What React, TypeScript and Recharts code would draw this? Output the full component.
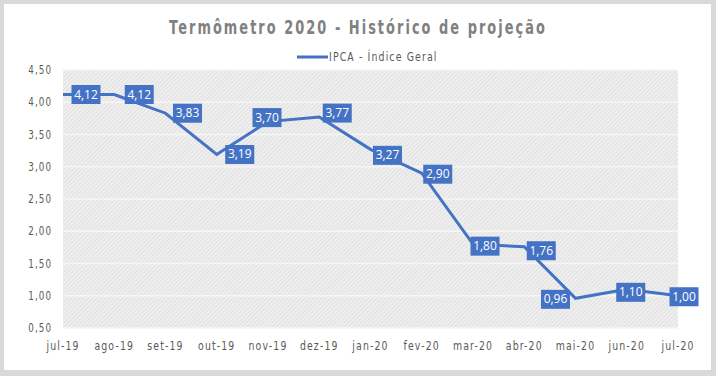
import { LineChart, Line, XAxis, YAxis, CartesianGrid, Legend, LabelList } from "recharts";

const months = ["jul-19", "ago-19", "set-19", "out-19", "nov-19", "dez-19", "jan-20", "fev-20", "mar-20", "abr-20", "mai-20", "jun-20", "jul-20"];
const ipca = [4.12, 4.12, 3.83, 3.19, 3.7, 3.77, 3.27, 2.9, 1.8, 1.76, 0.96, 1.1, 1.0];
const yTicks = [0.5, 1, 1.5, 2, 2.5, 3, 3.5, 4, 4.5];

// label nudges (px) so the boxes sit like in the original
const labelDx = [23, 25, 22, 23, -1, 18, 17, 16, 12, 17, -20, 4, 6];
const labelDy = [0, 0, 0, 0, -4, -4, 6, 1, 2, 4, 1, 3, 1];

const data = months.map((m, i) => ({ month: m, ipca: ipca[i] }));

const BLUE = "#4472C4";
const GREY = "#595959";
const font = "'DejaVu Sans', sans-serif";
const fmt = (v: number) => v.toFixed(2).replace(".", ",");

// no condensed font available, so squeeze text horizontally
const XTick = ({ x, y, payload }: any) => (
  <g transform={`translate(${x},${y + 14}) scale(0.75,1)`}>
    <text x={0} y={0} textAnchor="middle" fill={GREY} fontSize={12.5} fontFamily={font} letterSpacing={1.5}>
      {payload.value}
    </text>
  </g>
);

const YTick = ({ x, y, payload }: any) => (
  <g transform={`translate(${x + 7},${y + 4}) scale(0.7,1)`}>
    <text x={0} y={0} textAnchor="end" fill={GREY} fontSize={12.5} fontFamily={font} letterSpacing={1.5}>
      {fmt(payload.value)}
    </text>
  </g>
);

const BoxLabel = (props: any) => {
  const { x, y, value, index } = props;
  const cx = x + labelDx[index];
  const cy = y + labelDy[index];
  return (
    <g>
      <rect x={cx - 14.5} y={cy - 9.5} width={29} height={19} fill={BLUE} />
      <text x={cx} y={cy + 4} textAnchor="middle" fill="#fff" fontSize={12} fontFamily="'Open Sans', sans-serif">
        {fmt(value)}
      </text>
    </g>
  );
};

const LegendContent = () => (
  <div style={{ position: "relative", height: 20 }}>
    <svg width={31} height={6} style={{ position: "absolute", left: 297, top: 7 }}>
      <line x1={0} y1={3} x2={31} y2={3} stroke={BLUE} strokeWidth={3} />
    </svg>
    <span
      style={{
        position: "absolute",
        left: 329,
        top: 2,
        fontFamily: font,
        fontSize: 12.5,
        color: GREY,
        letterSpacing: 1.5,
        whiteSpace: "nowrap",
        transform: "scaleX(0.75)",
        transformOrigin: "left center",
      }}
    >
      IPCA - Índice Geral
    </span>
  </div>
);

export default function App() {
  return (
    <div style={{ position: "fixed", left: 0, top: 0, width: 716, height: 376, background: "#d9d9d9" }}>
      <div style={{ position: "absolute", left: 4, top: 4, width: 707, height: 366, background: "#fff" }} />
      <div
        style={{
          position: "absolute",
          left: 0,
          top: 16,
          width: 716,
          textAlign: "center",
          fontFamily: font,
          fontWeight: "bold",
          fontSize: 19,
          letterSpacing: 3,
          color: "#808080",
          whiteSpace: "nowrap",
          transform: "scaleX(0.68)",
        }}
      >
        Termômetro 2020 - Histórico de projeção
      </div>
      <div style={{ position: "absolute", left: 0, top: 0 }}>
        <LineChart width={716} height={376} data={data} margin={{ top: 50, right: 38, bottom: 18, left: 0 }}>
          <defs>
            <pattern id="hatch" width={3} height={3} patternUnits="userSpaceOnUse" patternTransform="rotate(45)">
              <rect width={3} height={3} fill="#efefef" />
              <line x1={0} y1={0} x2={0} y2={3} stroke="#dcdcdc" strokeWidth={1.5} />
            </pattern>
          </defs>
          <CartesianGrid vertical={false} fill="url(#hatch)" stroke="#f6f6f6" strokeWidth={1.5} />
          <XAxis dataKey="month" axisLine={false} tickLine={false} height={30} tick={<XTick />} interval={0} />
          <YAxis
            width={63}
            domain={[0.5, 4.5]}
            ticks={yTicks}
            axisLine={false}
            tickLine={false}
            tickMargin={12}
            tick={<YTick />}
          />
          <Legend verticalAlign="top" height={20} wrapperStyle={{ top: 47, left: 0, width: 716 }} content={<LegendContent />} />
          <Line type="linear" dataKey="ipca" stroke={BLUE} strokeWidth={3} dot={false} isAnimationActive={false} name="IPCA - Índice Geral">
            <LabelList dataKey="ipca" content={<BoxLabel />} />
          </Line>
        </LineChart>
      </div>
    </div>
  );
}
